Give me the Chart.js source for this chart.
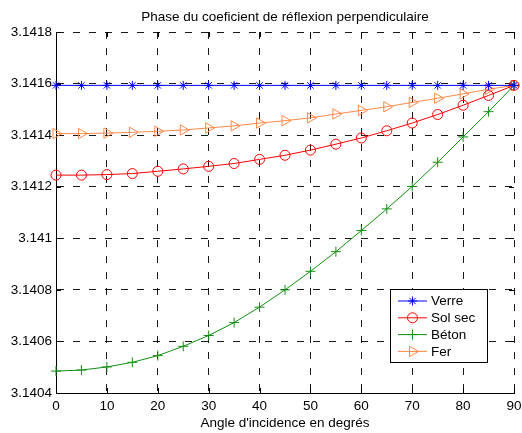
<!DOCTYPE html>
<html>
<head>
<meta charset="utf-8">
<script src="https://cdn.jsdelivr.net/npm/chart.js@4/dist/chart.umd.min.js"></script>
<style>
html,body{margin:0;padding:0;background:#fff;}
#wrap{width:522px;height:433px;position:relative;}
canvas{display:block;}
</style>
</head>
<body>
<div id="wrap"><canvas id="c" width="522" height="433"></canvas></div>
<script>
// ---- data ----
const titleText = "Phase du coeficient de réflexion perpendiculaire";
const xAxisTitle = "Angle d'incidence en degrés";
const angles = [0, 5, 10, 15, 20, 25, 30, 35, 40, 45, 50, 55, 60, 65, 70, 75, 80, 85, 90];
const xTicks = [0, 10, 20, 30, 40, 50, 60, 70, 80, 90];
const yTicks = [3.1404, 3.1406, 3.1408, 3.141, 3.1412, 3.1414, 3.1416, 3.1418];
const seriesNames = ["Verre", "Sol sec", "Béton", "Fer"];
const verre = [3.141593, 3.141593, 3.141593, 3.141593, 3.141593, 3.141593, 3.141593, 3.141593, 3.141593, 3.141593,
               3.141593, 3.141593, 3.141593, 3.141593, 3.141593, 3.141593, 3.141593, 3.141593, 3.141593];
const solSec = [3.141245, 3.141245, 3.141247, 3.141251, 3.141260, 3.141269, 3.141279, 3.141290, 3.141306, 3.141322,
                3.141342, 3.141365, 3.141389, 3.141417, 3.141447, 3.141480, 3.141516, 3.141554, 3.141593];
const beton = [3.140485, 3.140489, 3.140501, 3.140519, 3.140545, 3.140581, 3.140623, 3.140673, 3.140733, 3.140800,
               3.140872, 3.140948, 3.141030, 3.141114, 3.141201, 3.141295, 3.141393, 3.141491, 3.141593];
const fer = [3.141406, 3.141406, 3.141408, 3.141411, 3.141415, 3.141420, 3.141428, 3.141436, 3.141447, 3.141456,
             3.141467, 3.141482, 3.141496, 3.141510, 3.141527, 3.141543, 3.141560, 3.141578, 3.141593];

// ---- styles ----
const FAMILY = "'Liberation Sans', Arial, Helvetica, sans-serif";
const FSIZE = 13.5;
const styles = [
  {color: '#0000ff', pointStyle: 'star', radius: 4.5, rotation: 0},
  {color: '#ff0000', pointStyle: 'circle', radius: 5, rotation: 0},
  {color: '#109010', pointStyle: 'cross', radius: 5, rotation: 0},
  {color: '#ff8848', pointStyle: 'triangle', radius: 6, rotation: 90}
];
const values = [verre, solSec, beton, fer];

const datasets = values.map((vals, i) => ({
  label: seriesNames[i],
  data: angles.map((a, j) => ({x: a, y: vals[j]})),
  borderColor: styles[i].color,
  borderWidth: 1,
  pointStyle: styles[i].pointStyle,
  pointRadius: styles[i].radius,
  pointHoverRadius: styles[i].radius,
  pointRotation: styles[i].rotation,
  pointBorderColor: styles[i].color,
  pointBackgroundColor: 'rgba(0,0,0,0)',
  pointBorderWidth: 1,
  tension: 0,
  fill: false,
  clip: false
}));

function drawMarker(ctx, style, x, y) {
  const r = style.radius;
  ctx.beginPath();
  if (style.pointStyle === 'circle') {
    ctx.arc(x, y, r, 0, Math.PI * 2);
  } else if (style.pointStyle === 'cross') {
    ctx.moveTo(x - r, y); ctx.lineTo(x + r, y);
    ctx.moveTo(x, y - r); ctx.lineTo(x, y + r);
  } else if (style.pointStyle === 'star') {
    const o = Math.cos(Math.PI / 4) * r;
    ctx.moveTo(x - r, y); ctx.lineTo(x + r, y);
    ctx.moveTo(x, y - r); ctx.lineTo(x, y + r);
    ctx.moveTo(x - o, y - o); ctx.lineTo(x + o, y + o);
    ctx.moveTo(x - o, y + o); ctx.lineTo(x + o, y - o);
  } else if (style.pointStyle === 'triangle') {
    const rot = style.rotation * Math.PI / 180;
    for (let k = 0; k < 3; k++) {
      const a = rot - Math.PI / 2 + k * 2 * Math.PI / 3;
      const px = x + Math.cos(a) * r, py = y + Math.sin(a) * r;
      if (k === 0) ctx.moveTo(px, py); else ctx.lineTo(px, py);
    }
    ctx.closePath();
  }
  ctx.stroke();
}

const decorPlugin = {
  id: 'decor',
  beforeDatasetsDraw(chart) {
    const {ctx, chartArea: ca, scales} = chart;
    ctx.save();
    ctx.strokeStyle = '#000';
    ctx.lineWidth = 1;
    ctx.setLineDash([]);
    ctx.beginPath();
    const L = 5;
    xTicks.forEach(v => {
      const x = Math.round(scales.x.getPixelForValue(v)) + 0.5;
      ctx.moveTo(x, ca.bottom); ctx.lineTo(x, ca.bottom - L);
      ctx.moveTo(x, ca.top); ctx.lineTo(x, ca.top + L);
    });
    yTicks.forEach(v => {
      const y = Math.round(scales.y.getPixelForValue(v)) + 0.5;
      ctx.moveTo(ca.left, y); ctx.lineTo(ca.left + L, y);
      ctx.moveTo(ca.right, y); ctx.lineTo(ca.right - L, y);
    });
    ctx.stroke();
    ctx.restore();
  },
  afterDraw(chart) {
    const {ctx, chartArea: ca} = chart;
    ctx.save();
    // title
    ctx.fillStyle = '#000';
    ctx.font = FSIZE + 'px ' + FAMILY;
    ctx.textAlign = 'center';
    ctx.textBaseline = 'alphabetic';
    ctx.fillText(titleText, (ca.left + ca.right) / 2, 21);
    // legend
    const bw = 97, bh = 73;
    const bx = Math.round(ca.right - 27 - bw), by = Math.round(ca.bottom - 31 - bh);
    ctx.fillStyle = '#fff';
    ctx.fillRect(bx, by, bw, bh);
    ctx.strokeStyle = '#000';
    ctx.lineWidth = 1;
    ctx.strokeRect(bx + 0.5, by + 0.5, bw, bh);
    seriesNames.forEach((name, i) => {
      const y = by + 12 + i * 16.8;
      const st = styles[i];
      ctx.strokeStyle = st.color;
      ctx.lineWidth = 1;
      ctx.beginPath();
      ctx.moveTo(bx + 8, y); ctx.lineTo(bx + 37, y);
      ctx.stroke();
      drawMarker(ctx, st, bx + 22.5, y);
      ctx.fillStyle = '#000';
      ctx.textAlign = 'left';
      ctx.textBaseline = 'middle';
      ctx.font = FSIZE + 'px ' + FAMILY;
      ctx.fillText(name, bx + 41, y + 0.5);
    });
    ctx.restore();
  }
};

const fmt = v => String(parseFloat(Number(v).toFixed(4)));

new Chart(document.getElementById('c'), {
  type: 'line',
  data: {datasets},
  options: {
    responsive: false,
    devicePixelRatio: 1,
    animation: false,
    events: [],
    layout: {padding: {left: 0, right: 8, top: 32, bottom: 0}},
    plugins: {legend: {display: false}, title: {display: false}, tooltip: {enabled: false}},
    scales: {
      x: {
        type: 'linear', min: 0, max: 90,
        afterBuildTicks: s => { s.ticks = xTicks.map(v => ({value: v})); },
        afterFit: s => { s.height = 40; s.paddingLeft = 0; s.paddingRight = 0; },
        ticks: {color: '#000', font: {family: FAMILY, size: FSIZE}, padding: 5, maxRotation: 0, autoSkip: false, callback: v => String(v)},
        grid: {color: 'rgba(0,0,0,0.9)', lineWidth: 1, drawTicks: false},
        border: {display: true, color: '#000', width: 1, dash: [7, 9]},
        title: {display: true, text: xAxisTitle, color: '#000', font: {family: FAMILY, size: FSIZE}, padding: {top: 0, bottom: 2}}
      },
      y: {
        type: 'linear', min: 3.1404, max: 3.1418,
        afterBuildTicks: s => { s.ticks = yTicks.map(v => ({value: v})); },
        afterFit: s => { s.width = 56; s.paddingTop = 0; s.paddingBottom = 0; },
        ticks: {color: '#000', font: {family: FAMILY, size: FSIZE}, padding: 4, autoSkip: false, callback: v => fmt(v)},
        grid: {color: 'rgba(0,0,0,0.9)', lineWidth: 1, drawTicks: false},
        border: {display: true, color: '#000', width: 1, dash: [7, 9]}
      }
    }
  },
  plugins: [decorPlugin]
});
</script>
</body>
</html>
